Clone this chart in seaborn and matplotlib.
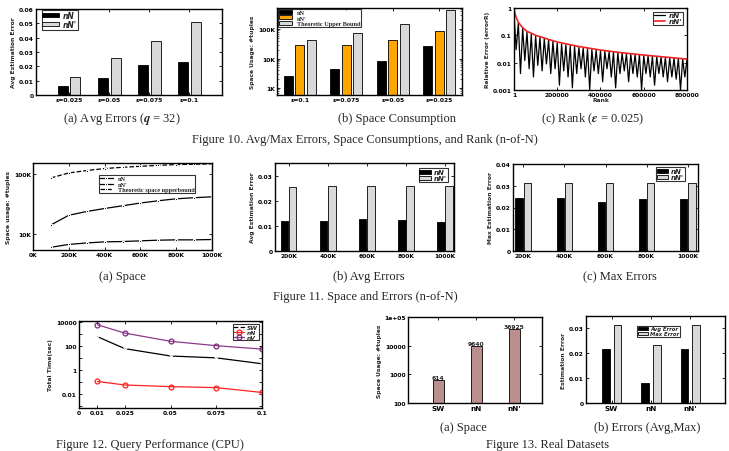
import matplotlib
matplotlib.use("Agg")
import matplotlib.pyplot as plt
import seaborn as sns
import pandas as pd
from matplotlib.ticker import FixedLocator, NullLocator

# ---------------- data ----------------
# Figure 10 (a) Avg errors
f10a_cats = ["ε=0.025", "ε=0.05", "ε=0.075", "ε=0.1"]
f10a_nN = [0.006, 0.012, 0.021, 0.023]
f10a_nNp = [0.0125, 0.026, 0.038, 0.051]
# Figure 10 (b) Space consumption
f10b_cats = ["ε=0.1", "ε=0.075", "ε=0.05", "ε=0.025"]
f10b_nN = [2500, 4400, 8300, 26000]
f10b_nNp = [30000, 28000, 42000, 85000]
f10b_ub = [42000, 72000, 144000, 455000]
# Figure 10 (c) Rank
f10c_red_rank = [1, 3000, 10000, 20000, 40000, 60000, 80000, 100000, 120000, 150000,
                 200000, 250000, 300000, 400000, 500000, 600000, 700000, 800000]
f10c_red_err = [1.0, 0.7, 0.45, 0.3, 0.19, 0.14, 0.12, 0.1, 0.09, 0.075,
                0.057, 0.047, 0.039, 0.029, 0.023, 0.019, 0.016, 0.0135]
f10c_peak_rank = [1, 20000, 40000, 60000, 80000, 100000, 120000, 140000, 160000, 180000,
                  200000, 220000, 240000, 260000, 280000, 300000, 320000, 340000, 360000, 380000,
                  400000, 420000, 440000, 460000, 480000, 500000, 520000, 540000, 560000, 580000,
                  600000, 620000, 640000, 660000, 680000, 700000, 720000, 740000, 760000, 780000,
                  800000]
f10c_peak_err = [0.6, 0.28, 0.18, 0.13, 0.11, 0.095, 0.085, 0.075, 0.066, 0.06,
                 0.052, 0.048, 0.045, 0.042, 0.039, 0.036, 0.034, 0.032, 0.030, 0.029,
                 0.027, 0.026, 0.025, 0.024, 0.023, 0.022, 0.021, 0.0205, 0.020, 0.019,
                 0.018, 0.0175, 0.017, 0.0165, 0.016, 0.0155, 0.015, 0.0145, 0.014, 0.0135,
                 0.013]
f10c_trough_rank = [10000, 30000, 50000, 70000, 90000, 110000, 130000, 150000, 170000, 190000,
                    210000, 230000, 250000, 270000, 290000, 310000, 330000, 350000, 370000, 390000,
                    410000, 430000, 450000, 470000, 490000, 510000, 530000, 550000, 570000, 590000,
                    610000, 630000, 650000, 670000, 690000, 710000, 730000, 750000, 770000, 790000]
f10c_trough_err = [0.03, 0.004, 0.012, 0.006, 0.003, 0.008, 0.005, 0.009, 0.004, 0.006,
                   0.0015, 0.005, 0.003, 0.0012, 0.004, 0.006, 0.003, 0.001, 0.005, 0.004,
                   0.002, 0.006, 0.003, 0.0012, 0.004, 0.005, 0.002, 0.004, 0.003, 0.001,
                   0.004, 0.003, 0.0015, 0.004, 0.003, 0.002, 0.003, 0.0025, 0.001, 0.003]
# Figure 11 (a) Space
f11a_n = [100000, 200000, 300000, 400000, 500000, 600000, 700000, 800000, 900000, 1000000]
f11a_nN = [6100, 6800, 7200, 7500, 7600, 7800, 8000, 8100, 8100, 8200]
f11a_nNp = [14300, 20700, 23900, 26800, 29700, 33000, 36000, 38800, 40400, 41900]
f11a_ub = [86000, 104000, 114000, 123000, 129000, 134000, 139000, 143000, 145000, 147000]
f11a_xticks = ["0K", "200K", "400K", "600K", "800K", "1000K"]
# Figure 11 (b)/(c) errors
f11_cats = ["200K", "400K", "600K", "800K", "1000K"]
f11b_nN = [0.0118, 0.0119, 0.0127, 0.0124, 0.0117]
f11b_nNp = [0.0255, 0.0257, 0.0257, 0.0257, 0.0257]
f11c_nN = [0.0243, 0.0243, 0.0225, 0.024, 0.024]
f11c_nNp = [0.0312, 0.0312, 0.0312, 0.0312, 0.0312]
# Figure 12 query performance
f12_eps = [0.01, 0.025, 0.05, 0.075, 0.1]
f12_sw = [560, 57, 14, 9.8, 3.2]
f12_nN = [0.11, 0.056, 0.041, 0.034, 0.0135]
f12_nV = [5400, 1100, 230, 100, 52]
# Figure 13 real datasets
f13_cats = ["SW", "nN", "nN'"]
f13a_space = [614, 9640, 36925]
f13b_avg = [0.0219, 0.008, 0.0219]
f13b_max = [0.0312, 0.0232, 0.0312]

# ---------------- style ----------------
sns.set_style("ticks")
plt.rcParams["font.family"] = ["DejaVu Sans"]
plt.rcParams["font.weight"] = "bold"
plt.rcParams["mathtext.fontset"] = "stix"
plt.rcParams["axes.linewidth"] = 1.0

W, H = 729, 452
fig = plt.figure(figsize=(W / 100, H / 100), dpi=100)


def add_ax(l, t, r, b):
    return fig.add_axes([l / W, 1 - b / H, (r - l) / W, (b - t) / H])


TICK = 4.3
LAB = 4.3
CAP = 9.0


def style(ax, ylabel, xlabel=""):
    ax.tick_params(direction="in", top=True, right=True, labelsize=TICK,
                   width=0.6, length=2.5, pad=1.5, colors="black")
    ax.tick_params(which="minor", direction="in", top=True, right=True, width=0.5, length=1.5)
    for s in ax.spines.values():
        s.set_color("black")
        s.set_linewidth(1.0)
    ax.set_ylabel(ylabel, fontsize=LAB, family=["Liberation Sans Narrow", "DejaVu Sans"],
                  fontweight="bold", labelpad=2)
    ax.set_xlabel(xlabel, fontsize=LAB, family=["Liberation Sans Narrow", "DejaVu Sans"],
                  fontweight="bold", labelpad=0)


def caption(x, y, s, size=CAP):
    fig.text(x / W, 1 - y / H, s, ha="center", va="center", fontsize=size,
             family="Liberation Serif", fontweight="normal")


def small_legend(ax, size, **kw):
    opts = dict(prop={"style": "italic", "size": size}, frameon=True, edgecolor="black",
                fancybox=False, handlelength=1.6, handleheight=0.55, borderpad=0.12,
                labelspacing=0.0, handletextpad=0.5)
    opts.update(kw)
    leg = ax.legend(**opts)
    leg.get_frame().set_linewidth(0.8)
    return leg


GRAY = "#d9d9d9"
ORANGE = "#ffa500"

# ---------- Fig 10a ----------
ax = add_ax(36, 10, 222, 96)
df = pd.DataFrame({"cat": f10a_cats * 2, "val": f10a_nN + f10a_nNp,
                   "s": ["nN"] * 4 + ["nN'"] * 4})
sns.barplot(data=df, x="cat", y="val", hue="s", palette=["black", GRAY], ax=ax,
            width=0.64, gap=0.22, edgecolor="black", linewidth=0.6, legend=True)
ax.set_xlim(-0.82, 3.81)
ax.set_ylim(0, 0.06)
ax.yaxis.set_major_locator(FixedLocator([0, 0.01, 0.02, 0.03, 0.04, 0.05, 0.06]))
ax.set_yticklabels(["0", "0.01", "0.02", "0.03", "0.04", "0.05", "0.06"])
style(ax, "Avg Estimation Error")
small_legend(ax, 5.5, loc="upper left", bbox_to_anchor=(0.03, 0.99), borderaxespad=0.0,
             handlelength=2.2)
caption(122, 119, "(a) Avg Errors ($q$ = 32)")

# ---------- Fig 10b ----------
ax = add_ax(277, 9, 462, 96)
df = pd.DataFrame({"cat": f10b_cats * 3, "val": f10b_nN + f10b_nNp + f10b_ub,
                   "s": ["nN"] * 4 + ["nN'"] * 4 + ["Theoretic Upper Bound"] * 4})
sns.barplot(data=df, x="cat", y="val", hue="s", palette=["black", ORANGE, GRAY], ax=ax,
            width=0.735, gap=0.2, edgecolor="black", linewidth=0.6, saturation=1)
ax.set_yscale("log")
ax.set_xlim(-0.49, 3.49)
ax.set_ylim(580, 520000)
ax.yaxis.set_major_locator(FixedLocator([1000, 10000, 100000]))
ax.set_yticklabels(["1K", "10K", "100K"])
style(ax, "Space Usage: #tuples")
leg = ax.legend(loc="upper left", prop={"family": "Liberation Serif", "size": 4.5},
                frameon=True, edgecolor="black", fancybox=False, handlelength=2.0,
                handleheight=0.6, borderpad=0.15, labelspacing=0.0, borderaxespad=0.2)
leg.get_frame().set_linewidth(0.8)
caption(397, 119, "(b) Space Consumption")

# ---------- Fig 10c ----------
ax = add_ax(514, 9, 687, 91)
dfb = pd.DataFrame({"rank": f10c_peak_rank + f10c_trough_rank,
                    "err": f10c_peak_err + f10c_trough_err})
dfr = pd.DataFrame({"rank": f10c_red_rank, "err": f10c_red_err})
sns.lineplot(data=dfb, x="rank", y="err", color="black", linewidth=0.9, ax=ax,
             label="nN", estimator=None)
sns.lineplot(data=dfr, x="rank", y="err", color="#ee2222", linewidth=1.2, ax=ax,
             label="nN'", estimator=None)
ax.set_yscale("log")
ax.set_xlim(1, 800000)
ax.set_ylim(0.001, 1)
ax.xaxis.set_major_locator(FixedLocator([1, 200000, 400000, 600000, 800000]))
ax.set_xticklabels(["1", "200000", "400000", "600000", "800000"])
ax.yaxis.set_major_locator(FixedLocator([0.001, 0.01, 0.1, 1]))
ax.set_yticklabels(["0.001", "0.01", "0.1", "1"])
ax.yaxis.set_minor_locator(NullLocator())
style(ax, "Relative Error (errorR)", "Rank")
small_legend(ax, 5.2, loc="upper right", borderaxespad=0.5, handleheight=0.4)
caption(593, 119, r"(c) Rank ($\epsilon$ = 0.025)")

caption(365, 140, "Figure 10. Avg/Max Errors, Space Consumptions, and Rank (n-of-N)")

# ---------- Fig 11a ----------
ax = add_ax(33, 164, 212, 251)
sns.lineplot(x=f11a_n, y=f11a_nN, color="black", marker="s", markersize=1.8,
             linewidth=0.9, ax=ax, label="nN")
sns.lineplot(x=f11a_n, y=f11a_nNp, color="black", marker="s", markersize=1.8,
             linewidth=0.9, ax=ax, label="nN'")
sns.lineplot(x=f11a_n, y=f11a_ub, color="black", marker="s", markersize=1.8,
             linewidth=0.9, linestyle="--", ax=ax, label="Theoretic space upperbound")
ax.set_yscale("log")
ax.set_xlim(0, 1000000)
ax.set_ylim(5500, 152000)
ax.xaxis.set_major_locator(FixedLocator([0, 200000, 400000, 600000, 800000, 1000000]))
ax.set_xticklabels(f11a_xticks)
ax.yaxis.set_major_locator(FixedLocator([10000, 100000]))
ax.set_yticklabels(["10K", "100K"])
ax.yaxis.set_minor_locator(NullLocator())
style(ax, "Space usage: #tuples")
leg = ax.legend(loc="upper left", bbox_to_anchor=(0.37, 0.86),
                prop={"family": "Liberation Serif", "size": 4.5}, frameon=True,
                edgecolor="black", fancybox=False, handlelength=2.0, borderpad=0.15,
                labelspacing=0.0, borderaxespad=0.0)
leg.get_frame().set_linewidth(0.8)
caption(122, 277, "(a) Space")

# ---------- Fig 11b ----------
ax = add_ax(275, 164, 454, 252)
df = pd.DataFrame({"cat": f11_cats * 2, "val": f11b_nN + f11b_nNp,
                   "s": ["nN"] * 5 + ["nN'"] * 5})
sns.barplot(data=df, x="cat", y="val", hue="s", palette=["black", GRAY], ax=ax,
            width=0.42, gap=0.1, edgecolor="black", linewidth=0.6)
ax.set_xlim(-0.35, 4.23)
ax.set_ylim(0, 0.035)
ax.yaxis.set_major_locator(FixedLocator([0, 0.01, 0.02, 0.03]))
ax.set_yticklabels(["0", "0.01", "0.02", "0.03"])
style(ax, "Avg Estimation Error")
small_legend(ax, 5.0, loc="upper right", bbox_to_anchor=(0.966, 0.94), borderaxespad=0.0)
caption(369, 277, "(b) Avg Errors")

# ---------- Fig 11c ----------
ax = add_ax(513, 165, 698, 252)
df = pd.DataFrame({"cat": f11_cats * 2, "val": f11c_nN + f11c_nNp,
                   "s": ["nN"] * 5 + ["nN'"] * 5})
sns.barplot(data=df, x="cat", y="val", hue="s", palette=["black", GRAY], ax=ax,
            width=0.4, gap=0.1, edgecolor="black", linewidth=0.6)
ax.set_xlim(-0.25, 4.25)
ax.set_ylim(0, 0.04)
ax.yaxis.set_major_locator(FixedLocator([0, 0.01, 0.02, 0.03, 0.04]))
ax.set_yticklabels(["0", "0.01", "0.02", "0.03", "0.04"])
style(ax, "Max Estimation Error")
small_legend(ax, 5.0, loc="upper right", bbox_to_anchor=(0.93, 0.96), borderaxespad=0.0)
caption(620, 277, "(c) Max Errors")

caption(365, 297, "Figure 11. Space and Errors (n-of-N)")

# ---------- Fig 12 ----------
ax = add_ax(79, 322, 262, 409)
sns.lineplot(x=f12_eps, y=f12_sw, color="black", marker="x", markersize=3.5,
             markeredgewidth=0.8, linewidth=0.9, ax=ax, label="SW")
sns.lineplot(x=f12_eps, y=f12_nN, color="#ff2020", marker="o", markersize=3.5,
             markerfacecolor="none", markeredgecolor="#ff2020", markeredgewidth=0.9,
             linewidth=0.9, ax=ax, label="nN")
sns.lineplot(x=f12_eps, y=f12_nV, color="#8a3a8a", marker="o", markersize=3.5,
             markerfacecolor="none", markeredgecolor="#7a2a7a", markeredgewidth=0.9,
             linewidth=0.9, ax=ax, label="nV")
ax.set_yscale("log")
ax.set_xlim(0, 0.1)
ax.set_ylim(0.0007, 11000)
ax.xaxis.set_major_locator(FixedLocator([0, 0.01, 0.025, 0.05, 0.075, 0.1]))
ax.set_xticklabels(["0", "0.01", "0.025", "0.05", "0.075", "0.1"])
ax.yaxis.set_major_locator(FixedLocator([0.001, 0.01, 0.1, 1, 10, 100, 1000, 10000]))
ax.set_yticklabels(["", "0.01", "", "1", "", "100", "", "10000"])
ax.yaxis.set_minor_locator(NullLocator())
style(ax, "Total Time(sec)")
small_legend(ax, 4.3, loc="upper right", borderaxespad=0.5, handlelength=1.8)
caption(150, 445, "Figure 12. Query Performance (CPU)")

# ---------- Fig 13a ----------
ax = add_ax(408, 318, 542, 404)
df = pd.DataFrame({"cat": f13_cats, "val": f13a_space})
sns.barplot(data=df, x="cat", y="val", color="#bc8f8f", saturation=1, ax=ax,
            width=0.28, edgecolor="black", linewidth=0.6)
ax.set_yscale("log")
ax.bar_label(ax.containers[0], labels=[str(v) for v in f13a_space], fontsize=4.3, padding=0.3)
ax.set_xlim(-0.8, 2.73)
ax.set_ylim(100, 100000)
ax.yaxis.set_major_locator(FixedLocator([100, 1000, 10000, 100000]))
ax.set_yticklabels(["100", "1000", "10000", "1e+05"])
ax.yaxis.set_minor_locator(NullLocator())
style(ax, "Space Usage: #tuples")
ax.tick_params(axis="x", labelsize=5.2)
caption(463, 428, "(a) Space")

# ---------- Fig 13b ----------
ax = add_ax(586, 317, 725, 404)
df = pd.DataFrame({"cat": f13_cats * 2, "val": f13b_avg + f13b_max,
                   "s": ["Avg Error"] * 3 + ["Max Error"] * 3})
sns.barplot(data=df, x="cat", y="val", hue="s", palette=["black", GRAY], ax=ax,
            width=0.59, gap=0.34, edgecolor="black", linewidth=0.6)
ax.set_xlim(-0.65, 2.88)
ax.set_ylim(0, 0.035)
ax.yaxis.set_major_locator(FixedLocator([0, 0.01, 0.02, 0.03]))
ax.set_yticklabels(["0", "0.01", "0.02", "0.03"])
style(ax, "Estimation Error")
ax.tick_params(axis="x", labelsize=5.2)
small_legend(ax, 3.8, loc="upper left", bbox_to_anchor=(0.37, 0.89), borderaxespad=0.0,
             handlelength=1.8)
caption(647, 428, "(b) Errors (Avg,Max)")

caption(548, 445, "Figure 13. Real Datasets")

fig.savefig("out.png", dpi=100)
